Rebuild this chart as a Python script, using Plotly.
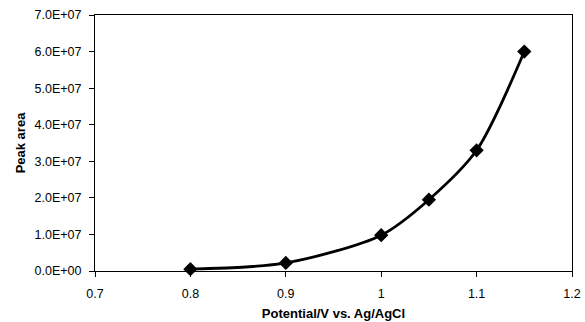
import plotly.graph_objects as go

potential = [0.8, 0.9, 1.0, 1.05, 1.1, 1.15]
peak_area = [0.5e6, 2.2e6, 9.8e6, 19.5e6, 33.0e6, 60.0e6]

y_tickvals = [0, 1e7, 2e7, 3e7, 4e7, 5e7, 6e7, 7e7]
y_ticktext = ["0.0E+00", "1.0E+07", "2.0E+07", "3.0E+07", "4.0E+07", "5.0E+07", "6.0E+07", "7.0E+07"]
x_tickvals = [0.7, 0.8, 0.9, 1.0, 1.1, 1.2]
x_ticktext = ["0.7", "0.8", "0.9", "1", "1.1", "1.2"]

fig = go.Figure()
fig.add_trace(go.Scatter(
    x=potential, y=peak_area, mode="lines+markers",
    line=dict(color="black", width=2.8, shape="spline", smoothing=0.8),
    marker=dict(symbol="diamond", size=11, color="black"),
    showlegend=False, cliponaxis=False,
))

font = dict(family="Liberation Sans, Arial, sans-serif", size=12.5, color="black")
fig.update_layout(
    width=585, height=322,
    margin=dict(l=95, r=13, t=15, b=51),
    paper_bgcolor="white", plot_bgcolor="white",
    font=font,
    xaxis=dict(
        range=[0.7, 1.2], tickvals=x_tickvals, ticktext=x_ticktext,
        showgrid=False, zeroline=False, showline=True, linecolor="black", linewidth=1,
        mirror=True, ticks="outside", ticklen=5, tickcolor="black",
        ticklabelstandoff=6, automargin=False,
        title=dict(text="<b>Potential/V vs. Ag/AgCl</b>", font=dict(size=13), standoff=8),
    ),
    yaxis=dict(
        range=[0, 7e7], tickvals=y_tickvals, ticktext=y_ticktext,
        showgrid=False, zeroline=False, showline=True, linecolor="black", linewidth=1,
        mirror=True, ticks="outside", ticklen=5, tickcolor="black",
        ticklabelstandoff=5, automargin=False,
        title=dict(text="<b>Peak area</b>", font=dict(size=13), standoff=6),
    ),
)
fig.write_html(
    "out.html",
    config={"displayModeBar": False},
    post_script="document.body.style.margin='0';document.body.style.padding='0';document.body.style.overflow='hidden';",
)
